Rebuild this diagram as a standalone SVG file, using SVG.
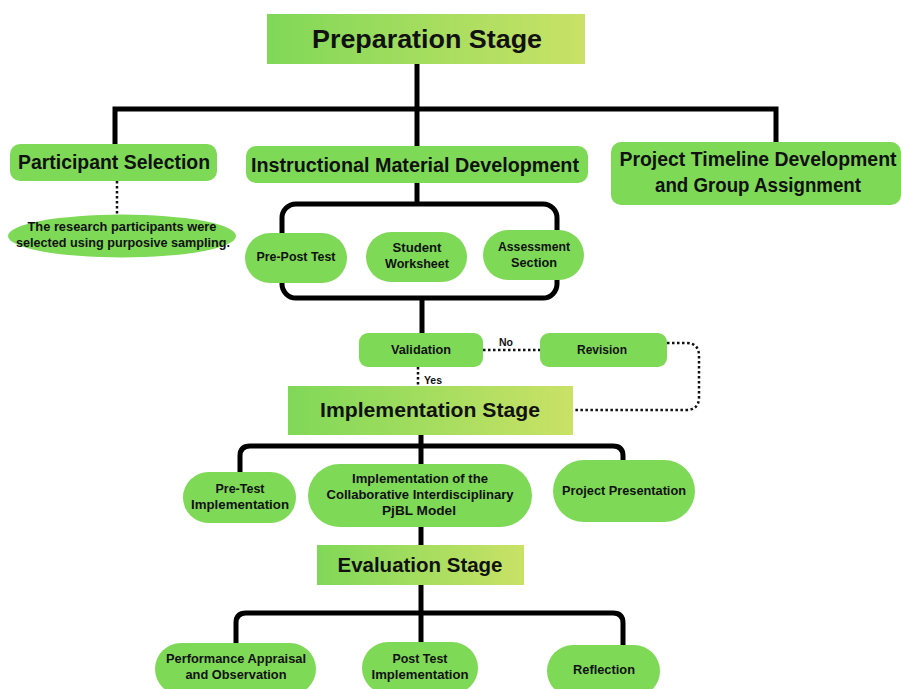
<svg xmlns="http://www.w3.org/2000/svg" width="901" height="689" viewBox="0 0 901 689">
<defs>
<linearGradient id="stageGrad" x1="0" y1="0" x2="1" y2="0">
<stop offset="0" stop-color="#80d858"/>
<stop offset="1" stop-color="#c9e266"/>
</linearGradient>
<style>
.solid{fill:none;stroke:#000;stroke-width:5;stroke-linejoin:miter}
.dot{fill:none;stroke:#111;stroke-width:2.5;stroke-dasharray:2.5 2.5}
.node{fill:#7ed957}
.stage{fill:url(#stageGrad)}
text{font-family:"Liberation Sans",Arial,sans-serif;font-weight:bold;fill:#111;text-anchor:middle}
.t1{font-size:25px}
.t2{font-size:19.5px}
.t3{font-size:21px}
.t4{font-size:13px}
.t5{font-size:12.5px}
.t6{font-size:10.5px}
</style>
</defs>
<rect width="901" height="689" fill="#fff"/>
<g id="connectors">
<path class="solid" d="M417 64 V147"/>
<path class="solid" d="M115 144 V109 H776 V143"/>
<path class="solid" d="M417 183 V205"/>
<rect class="solid" x="282" y="204" width="275" height="94" rx="14"/>
<path class="solid" d="M422 298 V333"/>
<path class="dot" d="M117 181 V214"/>
<path class="dot" d="M418 367 V386"/>
<path class="dot" d="M483 350 H540"/>
<path class="dot" d="M667 343 H686 Q699 343 699 356 V397 Q699 410 686 410 H573"/>
<path class="solid" d="M421 435 V464"/>
<path class="solid" d="M240 472 V456 Q240 446 250 446 H613 Q623 446 623 456 V461"/>
<path class="solid" d="M421 527 V545"/>
<path class="solid" d="M421 585 V642"/>
<path class="solid" d="M236 644 V623 Q236 613 246 613 H613 Q623 613 623 623 V646"/>
</g>
<g id="edge-labels">
<text class="t6" x="506" y="346">No</text>
<text class="t6" x="433" y="384">Yes</text>
</g>
<g id="preparation-stage">
<rect class="stage" x="267" y="14" width="318" height="50"/>
<text class="t1" x="427" y="48" textLength="230" lengthAdjust="spacingAndGlyphs">Preparation Stage</text>
</g>
<g id="participant-selection">
<rect class="node" x="10" y="144" width="207" height="37" rx="10"/>
<text class="t2" x="114" y="169" textLength="192" lengthAdjust="spacingAndGlyphs">Participant Selection</text>
</g>
<g id="participant-note">
<ellipse class="node" cx="122" cy="236" rx="114" ry="21.5"/>
<text class="t5" x="122" y="231" textLength="189" lengthAdjust="spacingAndGlyphs">The research participants were</text>
<text class="t5" x="123" y="247" textLength="214" lengthAdjust="spacingAndGlyphs">selected using purposive sampling.</text>
</g>
<g id="instructional-material">
<rect class="node" x="246" y="146" width="342" height="37" rx="10"/>
<text class="t2" x="415" y="172" textLength="328" lengthAdjust="spacingAndGlyphs">Instructional Material Development</text>
</g>
<g id="project-timeline">
<rect class="node" x="611" y="142" width="290" height="63" rx="10"/>
<text class="t2" x="758" y="166" textLength="277" lengthAdjust="spacingAndGlyphs">Project Timeline Development</text>
<text class="t2" x="758" y="192" textLength="206" lengthAdjust="spacingAndGlyphs">and Group Assignment</text>
</g>
<g id="pre-post-test">
<rect class="node" x="245" y="233" width="102" height="50" rx="25"/>
<text class="t4" x="296" y="261" textLength="79" lengthAdjust="spacingAndGlyphs">Pre-Post Test</text>
</g>
<g id="student-worksheet">
<rect class="node" x="366" y="232" width="101" height="50" rx="25"/>
<text class="t4" x="417" y="252" textLength="49" lengthAdjust="spacingAndGlyphs">Student</text>
<text class="t4" x="417" y="268" textLength="64" lengthAdjust="spacingAndGlyphs">Worksheet</text>
</g>
<g id="assessment-section">
<rect class="node" x="483" y="230" width="101" height="50" rx="25"/>
<text class="t4" x="534" y="251" textLength="72" lengthAdjust="spacingAndGlyphs">Assessment</text>
<text class="t4" x="534" y="267" textLength="46" lengthAdjust="spacingAndGlyphs">Section</text>
</g>
<g id="validation">
<rect class="node" x="359" y="333" width="124" height="34" rx="9"/>
<text class="t4" x="421" y="354" textLength="60" lengthAdjust="spacingAndGlyphs">Validation</text>
</g>
<g id="revision">
<rect class="node" x="540" y="333" width="127" height="34" rx="9"/>
<text class="t4" x="602" y="354" textLength="50" lengthAdjust="spacingAndGlyphs">Revision</text>
</g>
<g id="implementation-stage">
<rect class="stage" x="288" y="386" width="285" height="49"/>
<text class="t3" x="430" y="417" textLength="220" lengthAdjust="spacingAndGlyphs">Implementation Stage</text>
</g>
<g id="pre-test-implementation">
<rect class="node" x="183" y="472" width="113" height="51" rx="25.5"/>
<text class="t4" x="240" y="493" textLength="49" lengthAdjust="spacingAndGlyphs">Pre-Test</text>
<text class="t4" x="240" y="509" textLength="98" lengthAdjust="spacingAndGlyphs">Implementation</text>
</g>
<g id="collaborative-pjbl">
<rect class="node" x="308" y="464" width="224" height="63" rx="31.5"/>
<text class="t4" x="420" y="483" textLength="136" lengthAdjust="spacingAndGlyphs">Implementation of the</text>
<text class="t4" x="420" y="499" textLength="187" lengthAdjust="spacingAndGlyphs">Collaborative Interdisciplinary</text>
<text class="t4" x="419" y="515" textLength="74" lengthAdjust="spacingAndGlyphs">PjBL Model</text>
</g>
<g id="project-presentation">
<rect class="node" x="553" y="460" width="142" height="62" rx="31"/>
<text class="t4" x="624" y="495" textLength="124" lengthAdjust="spacingAndGlyphs">Project Presentation</text>
</g>
<g id="evaluation-stage">
<rect class="stage" x="317" y="545" width="207" height="40"/>
<text class="t3" x="420" y="572" textLength="165" lengthAdjust="spacingAndGlyphs">Evaluation Stage</text>
</g>
<g id="performance-appraisal">
<rect class="node" x="155" y="643" width="161" height="52" rx="26"/>
<text class="t4" x="236" y="663" textLength="140" lengthAdjust="spacingAndGlyphs">Performance Appraisal</text>
<text class="t4" x="236" y="679" textLength="101" lengthAdjust="spacingAndGlyphs">and Observation</text>
</g>
<g id="post-test-implementation">
<rect class="node" x="362" y="642" width="116" height="52" rx="26"/>
<text class="t4" x="420" y="663" textLength="55" lengthAdjust="spacingAndGlyphs">Post Test</text>
<text class="t4" x="420" y="679" textLength="97" lengthAdjust="spacingAndGlyphs">Implementation</text>
</g>
<g id="reflection">
<rect class="node" x="547" y="645" width="113" height="52" rx="26"/>
<text class="t4" x="604" y="674" textLength="62" lengthAdjust="spacingAndGlyphs">Reflection</text>
</g>
</svg>
